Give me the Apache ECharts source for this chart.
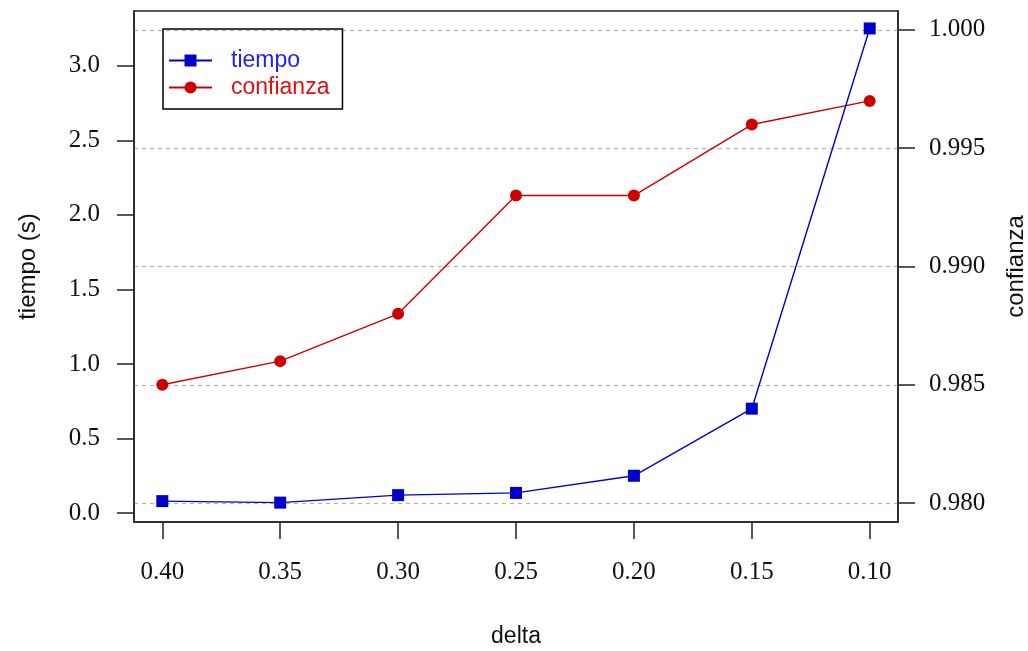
<!DOCTYPE html>
<html>
<head>
<meta charset="utf-8">
<script src="https://cdn.jsdelivr.net/npm/echarts@6/dist/echarts.min.js"></script>
<style>
  html, body { margin: 0; padding: 0; background: #fff; }
  #chart { width: 1028px; height: 651px; }
</style>
</head>
<body>
<div id="chart"></div>
<script>
// delta values on the x axis (drawn from 0.40 down to 0.10)
const deltas = [0.40, 0.35, 0.30, 0.25, 0.20, 0.15, 0.10];
// run time in seconds for each delta
const tiempo = [0.08, 0.07, 0.12, 0.135, 0.25, 0.70, 3.25];
// confidence reached for each delta
const confianza = [0.985, 0.986, 0.988, 0.993, 0.993, 0.996, 0.997];
// tick labels
const ticksLeft = [0.0, 0.5, 1.0, 1.5, 2.0, 2.5, 3.0];
const ticksRight = [0.980, 0.985, 0.990, 0.995, 1.000];

const BLUE = '#0000cd';
const RED = '#cd0000';
const AXIS = '#222';
const serif = '"Liberation Serif", "DejaVu Serif", serif';
const sans = '"Liberation Sans", Arial, sans-serif';

const chart = echarts.init(document.getElementById('chart'), null, { renderer: 'canvas' });

const tickCommon = { show: true, inside: false, length: 17, lineStyle: { color: AXIS, width: 1.5 } };

chart.setOption({
  animation: false,
  backgroundColor: '#fff',
  grid: {
    left: 134, right: 130, top: 11, bottom: 129,
    containLabel: false, outerBoundsMode: 'none',
    show: true, borderColor: AXIS, borderWidth: 1.5, backgroundColor: 'transparent'
  },
  legend: {
    orient: 'vertical',
    left: 163, top: 29,
    padding: [19, 13, 9, 5],
    borderColor: '#000', borderWidth: 1.5, borderRadius: 0,
    itemWidth: 43, itemHeight: 15, itemGap: 2,
    textStyle: { fontFamily: sans, fontSize: 23, padding: [0, 0, 0, 14], lineHeight: 25 },
    data: [
      { name: 'tiempo', textStyle: { color: '#1f1fef' } },
      { name: 'confianza', textStyle: { color: '#dd1111' } }
    ]
  },
  xAxis: {
    type: 'value',
    min: 0.088, max: 0.412, inverse: true,
    name: 'delta', nameLocation: 'middle', nameGap: 103,
    nameTextStyle: { fontFamily: sans, fontSize: 23, color: '#111' },
    axisLine: { show: true, onZero: false, lineStyle: { color: AXIS, width: 1.5 } },
    axisTick: Object.assign({ customValues: deltas }, tickCommon),
    axisLabel: {
      customValues: deltas, margin: 38,
      fontFamily: serif, fontSize: 25, color: '#111',
      formatter: v => v.toFixed(2)
    },
    splitLine: { show: false }
  },
  yAxis: [
    {
      type: 'value', position: 'left',
      min: -0.06, max: 3.367,
      name: 'tiempo (s)', nameLocation: 'middle', nameRotate: 90, nameGap: 94,
      nameTextStyle: { fontFamily: sans, fontSize: 24, color: '#111' },
      axisLine: { show: true, onZero: false, lineStyle: { color: AXIS, width: 1.5 } },
      axisTick: Object.assign({ customValues: ticksLeft }, tickCommon),
      axisLabel: {
        customValues: ticksLeft, margin: 34,
        fontFamily: serif, fontSize: 25, color: '#111',
        formatter: v => v.toFixed(1)
      },
      splitLine: { show: false }
    },
    {
      type: 'value', position: 'right',
      min: 0.9792, max: 1.0008,
      name: 'confianza', nameLocation: 'middle', nameRotate: 90, nameGap: 106,
      nameTextStyle: { fontFamily: sans, fontSize: 24, color: '#111' },
      axisLine: { show: true, onZero: false, lineStyle: { color: AXIS, width: 1.5 } },
      axisTick: Object.assign({ customValues: ticksRight }, tickCommon),
      axisLabel: {
        customValues: ticksRight, margin: 31,
        fontFamily: serif, fontSize: 25, color: '#111',
        formatter: v => v.toFixed(3)
      },
      // dotted reference lines at the confianza ticks
      splitLine: { show: true, lineStyle: { color: '#b4b4b4', type: [4, 4], width: 1.2 } }
    }
  ],
  series: [
    {
      name: 'confianza', type: 'line', yAxisIndex: 1,
      data: deltas.map((d, i) => [d, confianza[i]]),
      symbol: 'circle', symbolSize: 12,
      itemStyle: { color: RED },
      lineStyle: { color: RED, width: 1.4 },
      z: 3
    },
    {
      name: 'tiempo', type: 'line', yAxisIndex: 0,
      data: deltas.map((d, i) => [d, tiempo[i]]),
      symbol: 'rect', symbolSize: 12,
      itemStyle: { color: BLUE },
      lineStyle: { color: BLUE, width: 1.4 },
      z: 4
    }
  ]
});
</script>
</body>
</html>
